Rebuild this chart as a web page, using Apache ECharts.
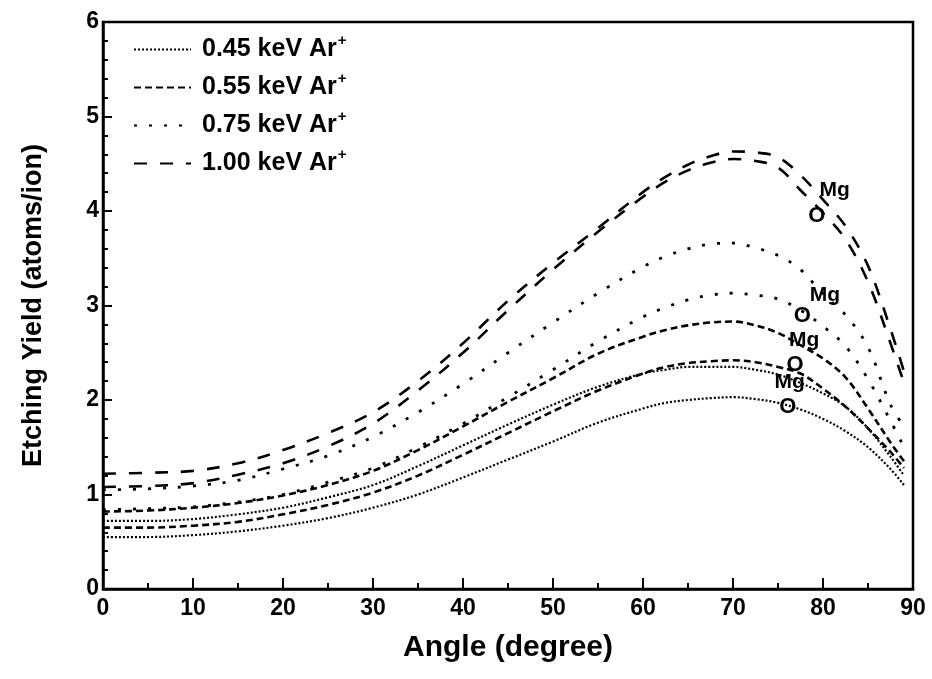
<!DOCTYPE html>
<html>
<head>
<meta charset="utf-8">
<script src="https://cdn.jsdelivr.net/npm/echarts@6/dist/echarts.min.js"></script>
<style>
  html, body { margin: 0; padding: 0; background: #fff; }
  #chart { width: 932px; height: 679px; }
</style>
</head>
<body>
<div id="chart"></div>
<script>
// Incidence angles (degree) at which the yields are sampled
const angles = [0, 5, 10, 15, 20, 25, 30, 35, 40, 45, 50, 55, 60, 62.5, 65, 67.5, 70, 72.5, 75, 77.5, 80, 82.5, 85, 87.5, 89];

// Etching yields (atoms/ion) for each Ar+ energy, Mg and O
const yield045Mg = [0.72, 0.72, 0.74, 0.79, 0.86, 0.97, 1.10, 1.30, 1.52, 1.74, 1.95, 2.14, 2.28, 2.32, 2.35, 2.35, 2.35, 2.32, 2.27, 2.18, 2.07, 1.93, 1.70, 1.40, 1.20];
const yield045O  = [0.55, 0.55, 0.57, 0.61, 0.67, 0.75, 0.86, 1.00, 1.18, 1.37, 1.56, 1.76, 1.91, 1.97, 2.00, 2.02, 2.03, 2.01, 1.97, 1.90, 1.80, 1.67, 1.50, 1.27, 1.10];
const yield055Mg = [0.82, 0.83, 0.86, 0.91, 0.99, 1.10, 1.25, 1.47, 1.72, 1.98, 2.23, 2.49, 2.67, 2.74, 2.79, 2.82, 2.83, 2.79, 2.71, 2.58, 2.44, 2.24, 1.91, 1.55, 1.35];
const yield055O  = [0.65, 0.65, 0.67, 0.71, 0.79, 0.89, 1.02, 1.20, 1.42, 1.65, 1.88, 2.10, 2.28, 2.35, 2.39, 2.41, 2.42, 2.40, 2.35, 2.28, 2.12, 1.93, 1.70, 1.45, 1.28];
const yield075Mg = [1.05, 1.06, 1.09, 1.15, 1.27, 1.41, 1.61, 1.87, 2.17, 2.50, 2.82, 3.13, 3.41, 3.52, 3.60, 3.65, 3.66, 3.61, 3.53, 3.38, 3.12, 2.90, 2.56, 1.95, 1.72];
const yield075O  = [0.84, 0.85, 0.87, 0.92, 1.00, 1.13, 1.28, 1.50, 1.75, 2.03, 2.32, 2.62, 2.88, 2.98, 3.06, 3.11, 3.13, 3.11, 3.07, 2.95, 2.78, 2.57, 2.22, 1.78, 1.50];
const yield100Mg = [1.22, 1.23, 1.25, 1.33, 1.47, 1.65, 1.87, 2.20, 2.60, 3.05, 3.45, 3.82, 4.20, 4.36, 4.49, 4.58, 4.63, 4.62, 4.57, 4.38, 4.12, 3.84, 3.42, 2.75, 2.30];
const yield100O  = [1.08, 1.09, 1.12, 1.21, 1.33, 1.51, 1.75, 2.10, 2.50, 2.95, 3.38, 3.78, 4.15, 4.31, 4.43, 4.51, 4.55, 4.53, 4.46, 4.22, 3.98, 3.70, 3.25, 2.60, 2.18];

// Legend names
const energyNames = ['0.45 keV Ar', '0.55 keV Ar', '0.75 keV Ar', '1.00 keV Ar'];

// Element labels placed next to each curve pair: [angle, yield]
const labelText   = ['Mg', 'O', 'Mg', 'O', 'Mg', 'O', 'Mg', 'O'];
const labelAngle  = [76.3, 76.1, 77.9, 76.9, 80.2, 77.7, 81.3, 79.3];
const labelYield  = [2.19, 1.93, 2.63, 2.37, 3.11, 2.89, 4.22, 3.95];

// Axis ranges and tick steps
const xTicks = { min: 0, max: 90, step: 10 };
const yTicks = { min: 0, max: 6, step: 1 };

const FONT = "'Liberation Sans', Arial, sans-serif";

// Dash pattern for each energy
const dashStyles = [
  { type: [2, 2], width: 2.2 },
  { type: [7, 4], width: 2.6 },
  { type: [3, 12], width: 2.8 },
  { type: [13, 13], width: 2.6 }
];

const curves = [
  [yield045Mg, yield045O],
  [yield055Mg, yield055O],
  [yield075Mg, yield075O],
  [yield100Mg, yield100O]
];

const series = [];
curves.forEach((pair, i) => {
  pair.forEach((ys, j) => {
    const k = i * 2 + j;
    series.push({
      name: energyNames[i],
      type: 'line',
      smooth: 0.35,
      symbol: 'none',
      showSymbol: false,
      lineStyle: { color: '#000', width: dashStyles[i].width, type: dashStyles[i].type, cap: 'butt' },
      itemStyle: { color: '#000' },
      data: angles.map((a, n) => [a, ys[n]]),
      markPoint: {
        symbol: 'circle',
        symbolSize: 1,
        itemStyle: { color: 'rgba(0,0,0,0)' },
        label: {
          show: true,
          position: 'inside',
          formatter: '{b}',
          color: '#000',
          fontFamily: FONT,
          fontWeight: 'bold',
          fontSize: labelText[k] === 'O' ? 22 : 21
        },
        data: [{ name: labelText[k], coord: [labelAngle[k], labelYield[k]] }]
      }
    });
  });
});

const chart = echarts.init(document.getElementById('chart'), null, { renderer: 'canvas' });
chart.setOption({
  animation: false,
  backgroundColor: '#fff',
  grid: {
    left: 103, right: 19, top: 22, bottom: 90,
    show: true, borderColor: '#000', borderWidth: 2.5, backgroundColor: 'transparent'
  },
  legend: {
    data: energyNames,
    orient: 'vertical',
    left: 133,
    top: 33,
    padding: 0,
    itemWidth: 57,
    itemHeight: 14,
    itemGap: 9,
    itemStyle: { opacity: 0 },
    formatter: name => '{t|' + name + '}{sup|+}',
    textStyle: {
      color: '#000', fontFamily: FONT, fontWeight: 'bold', fontSize: 25,
      rich: {
        t: { fontFamily: FONT, fontWeight: 'bold', fontSize: 25, color: '#000', padding: [0, 0, 0, 6] },
        sup: { fontFamily: FONT, fontWeight: 'bold', fontSize: 15, color: '#000', verticalAlign: 'top', padding: [0, 0, 18, 1] }
      }
    }
  },
  xAxis: {
    type: 'value',
    min: xTicks.min, max: xTicks.max, interval: xTicks.step,
    name: 'Angle (degree)',
    nameLocation: 'middle',
    nameGap: 44,
    nameTextStyle: { color: '#000', fontFamily: FONT, fontWeight: 'bold', fontSize: 30 },
    axisLine: { lineStyle: { color: '#000', width: 2.5 } },
    axisTick: { inside: true, length: 11, lineStyle: { color: '#000', width: 2 } },
    minorTick: { show: true, splitNumber: 2, length: 6, lineStyle: { color: '#000', width: 2 } },
    axisLabel: { color: '#000', fontFamily: FONT, fontWeight: 'bold', fontSize: 23, margin: 8 },
    splitLine: { show: false }
  },
  yAxis: {
    type: 'value',
    min: yTicks.min, max: yTicks.max, interval: yTicks.step,
    name: 'Etching Yield (atoms/ion)',
    nameLocation: 'middle',
    nameGap: 56,
    nameTextStyle: { color: '#000', fontFamily: FONT, fontWeight: 'bold', fontSize: 27 },
    axisLine: { lineStyle: { color: '#000', width: 2.5 } },
    axisTick: { inside: true, length: 9, lineStyle: { color: '#000', width: 2 } },
    minorTick: { show: true, splitNumber: 5, length: 5, lineStyle: { color: '#000', width: 2 } },
    axisLabel: { color: '#000', fontFamily: FONT, fontWeight: 'bold', fontSize: 23, margin: 4 },
    splitLine: { show: false }
  },
  series: series
});
</script>
</body>
</html>
